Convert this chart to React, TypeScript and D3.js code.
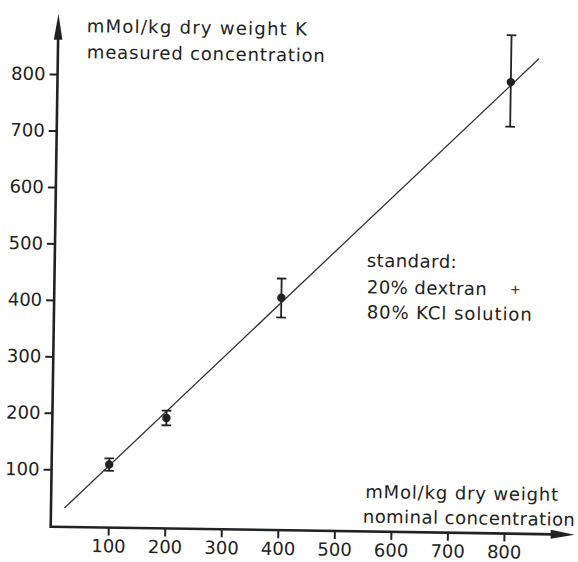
import { useEffect, useRef } from "react";
import * as d3 from "d3";

/** ---- Data ---- **/
const nominal = [100, 200, 400, 800];
const measured = [110, 194, 410, 798];
const errLow = [99, 181, 375, 719];
const errHigh = [121, 207, 444, 881];

// regression line end points (data units)
const fitX = [22, 849];
const fitY = [32, 840];

const xTicks = [100, 200, 300, 400, 500, 600, 700, 800];
const yTicks = [100, 200, 300, 400, 500, 600, 700, 800];

const yTitle = ["mMol/kg dry weight K", "measured concentration"];
const xTitle = ["mMol/kg dry weight", "nominal concentration"];
const note = ["standard:", "20% dextran", "80% KCl solution"];

const W = 578;
const H = 562;
const FONT = "'DejaVu Sans', sans-serif";
const INK = "#222";

export default function App() {
  const svgRef = useRef<SVGSVGElement>(null);

  useEffect(() => {
    const svg = d3.select(svgRef.current);
    svg.selectAll("*").remove();
    svg.append("rect").attr("width", W).attr("height", H).attr("fill", "#fff");

    // scanned figure is tilted slightly clockwise
    const origin = { x: 50.7, y: 526.7 };
    const g = svg.append("g")
      .attr("transform", `translate(${origin.x},${origin.y}) rotate(0.87)`);

    const x = d3.scaleLinear().domain([0, 900]).range([1, 1 + 0.5654 * 900]);
    const y = d3.scaleLinear().domain([0, 900]).range([-0.9, -0.9 - 0.5647 * 900]);

    const xEnd = 524;
    const yEnd = -513;

    // axes lines
    g.append("line").attr("x1", 0).attr("y1", 0).attr("x2", xEnd - 20).attr("y2", 0)
      .attr("stroke", INK).attr("stroke-width", 2.6);
    g.append("line").attr("x1", 0).attr("y1", 1.2).attr("x2", 0).attr("y2", yEnd + 20)
      .attr("stroke", INK).attr("stroke-width", 2.6);

    // arrow heads
    g.append("path")
      .attr("d", `M${xEnd},0 L${xEnd - 24},-4.5 L${xEnd - 24},4.5 Z`)
      .attr("fill", INK);
    g.append("path")
      .attr("d", `M0,${yEnd} L-4.3,${yEnd + 26} L4.3,${yEnd + 26} Z`)
      .attr("fill", INK);

    // ticks
    const xAxis = d3.axisBottom(x).tickValues(xTicks).tickSize(8).tickPadding(4);
    const yAxis = d3.axisLeft(y).tickValues(yTicks).tickSize(8).tickPadding(4);
    const xg = g.append("g").call(xAxis);
    const yg = g.append("g").call(yAxis);
    [xg, yg].forEach(a => {
      a.select(".domain").remove();
      a.selectAll("line").attr("stroke", INK).attr("stroke-width", 2);
      a.selectAll("text")
        .attr("font-family", FONT).attr("font-size", 18).attr("fill", INK);
    });
    xg.selectAll("text").attr("dy", "0.71em");

    // fit line
    g.append("line")
      .attr("x1", x(fitX[0])).attr("y1", y(fitY[0]))
      .attr("x2", x(fitX[1])).attr("y2", y(fitY[1]))
      .attr("stroke", "#333").attr("stroke-width", 1.3);

    // error bars + points
    nominal.forEach((n, i) => {
      const cx = x(n);
      g.append("line").attr("x1", cx).attr("x2", cx)
        .attr("y1", y(errLow[i])).attr("y2", y(errHigh[i]))
        .attr("stroke", INK).attr("stroke-width", 1.8);
      [errLow[i], errHigh[i]].forEach(v => {
        g.append("line").attr("x1", cx - 4.8).attr("x2", cx + 4.8)
          .attr("y1", y(v)).attr("y2", y(v))
          .attr("stroke", INK).attr("stroke-width", 1.8);
      });
      g.append("circle").attr("cx", cx).attr("cy", y(measured[i]))
        .attr("r", 4.2).attr("fill", INK);
    });

    // texts
    const txt = (s: string, tx: number, ty: number, len?: number, size = 18) => {
      const t = g.append("text").attr("x", tx).attr("y", ty)
        .attr("font-family", FONT).attr("font-size", size).attr("fill", INK)
        .text(s);
      if (len) t.attr("textLength", len).attr("lengthAdjust", "spacing");
      return t;
    };
    txt(yTitle[0], 28.5, -495, 220);
    txt(yTitle[1], 29, -469, 238);
    txt(xTitle[0], 314, -33.5, 193);
    txt(xTitle[1], 312, -8.8, 212);
    txt(note[0], 312, -264.8, 90);
    txt(note[1], 312.5, -238.2, 120);
    txt("+", 461, -240, undefined, 13).attr("text-anchor", "middle");
    txt(note[2], 312.8, -213.2, 165);
  }, []);

  return (
    <svg ref={svgRef} width={W} height={H}
      style={{ position: "absolute", left: 0, top: 0, display: "block" }} />
  );
}
